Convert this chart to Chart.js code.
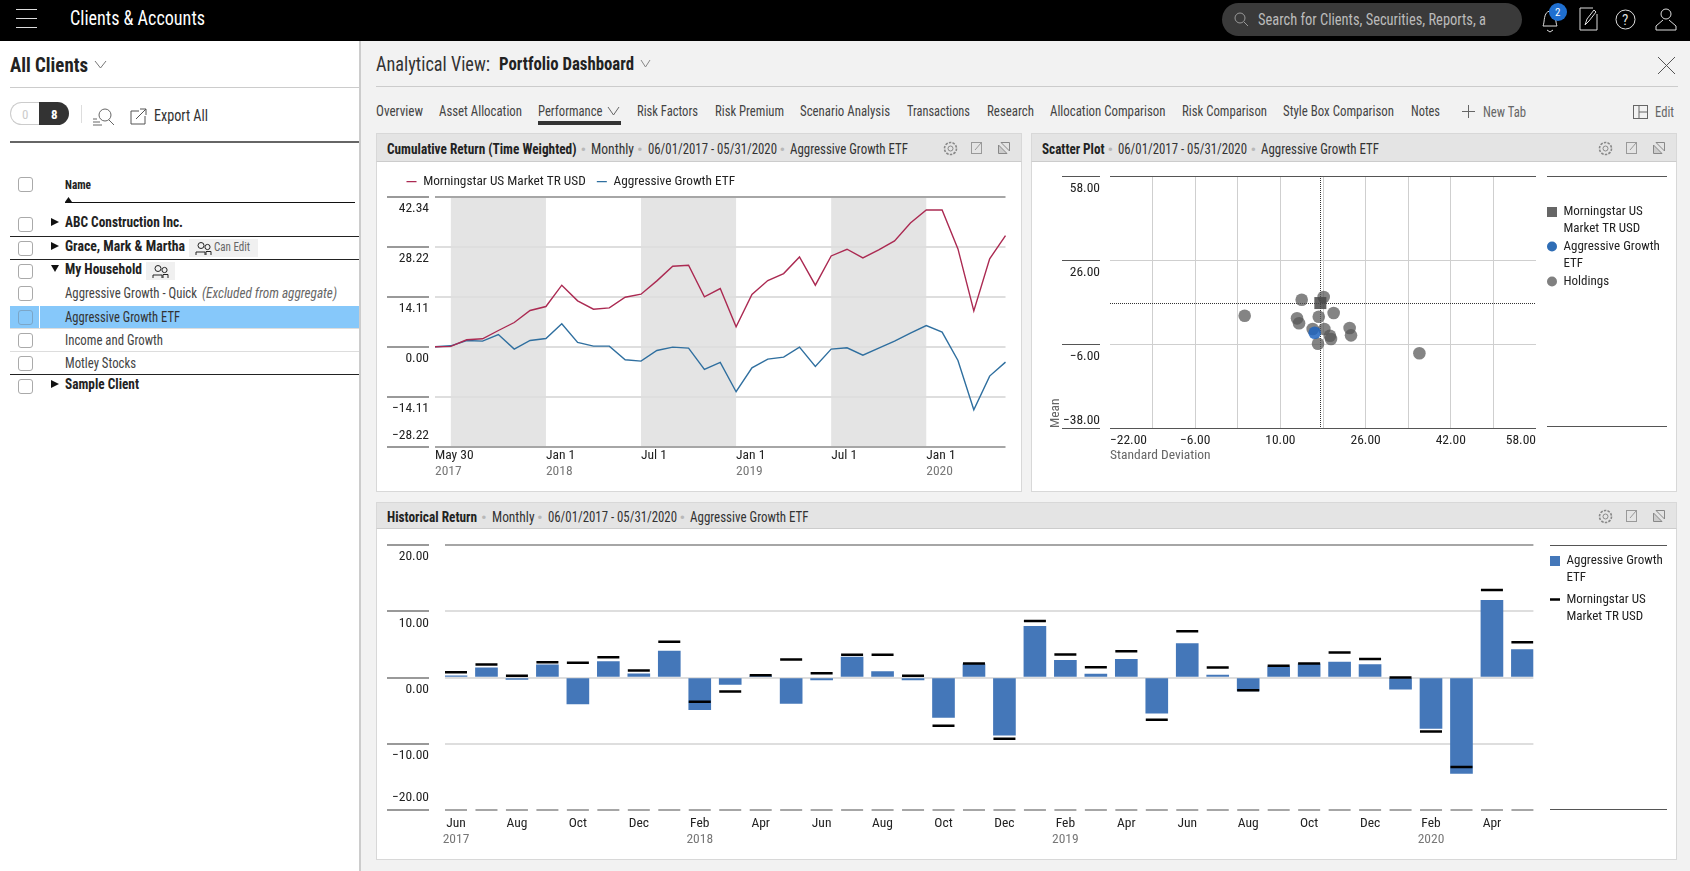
<!DOCTYPE html>
<html><head><meta charset="utf-8">
<script src="https://cdn.jsdelivr.net/npm/chart.js@4/dist/chart.umd.js"></script>
<style>
html,body{margin:0;padding:0;width:1690px;height:871px;overflow:hidden;background:#f2f2f2;font-family:'Roboto Condensed',Roboto,sans-serif;color:#222}
.t{position:absolute;white-space:nowrap;transform:translateY(-50%);transform-origin:left center;line-height:1}
.b{position:absolute}
canvas{position:absolute;display:block}
svg{position:absolute;overflow:visible}
</style></head><body>
<div id="root"></div>
<canvas id="cum" width="645" height="328" style="left:377px;top:163px;width:645px;height:328px"></canvas>
<canvas id="sca" width="645" height="328" style="left:1032px;top:163px;width:645px;height:328px"></canvas>
<canvas id="his" width="1300" height="329" style="left:377px;top:530px;width:1300px;height:329px"></canvas>
<script>
const FONT="'Roboto Condensed',Roboto,sans-serif";
// ---------- data: cumulative return ----------
const cumMonths=['2017-05','2017-06','2017-07','2017-08','2017-09','2017-10','2017-11','2017-12','2018-01','2018-02','2018-03','2018-04','2018-05','2018-06','2018-07','2018-08','2018-09','2018-10','2018-11','2018-12','2019-01','2019-02','2019-03','2019-04','2019-05','2019-06','2019-07','2019-08','2019-09','2019-10','2019-11','2019-12','2020-01','2020-02','2020-03','2020-04','2020-05'];
const cumIndex=[0.1,0.2,2.07,2.35,4.7,6.96,10.35,11.48,17.5,13.08,10.72,11.1,14.11,14.96,18.72,22.86,23.14,14.2,16.56,5.74,14.86,18.81,20.79,25.49,17.5,25.77,27.66,25.2,27.47,30.0,35.09,38.76,38.76,27.75,10.25,24.93,31.51];
const cumFund=[0.1,0.38,1.88,1.69,3.57,-0.56,1.88,2.45,6.58,1.32,0.28,0.28,-3.57,-3.95,-0.94,0,-0.28,-6.3,-4.33,-12.6,-5.83,-3.39,-2.82,0,-5.46,-0.56,-0.19,-2.26,-0.28,1.69,3.95,6.11,4.23,-3.76,-17.69,-8.18,-4.23];
const cumYTicks=[-28.22,-14.11,0,14.11,28.22,42.34];
const cumTickText={0:'May 30',7:'Jan 1',13:'Jul 1',19:'Jan 1',25:'Jul 1',31:'Jan 1'};
const cumYearText={0:'2017',7:'2018',19:'2019',31:'2020'};
const bandStarts=[1,13,25];
const bandEnds=[7,19,31];
// ---------- data: scatter ----------
const benchStdDev=[17.5], benchMean=[9.6];
const fundStdDev=[16.44], fundMean=[-1.7];
const holdStdDev=[14.0,18.13,3.29,20.0,17.2,13.12,13.5,16.06,18.25,23.0,23.26,19.3,19.5,17.06,36.1];
const holdMean=[10.87,11.9,4.78,5.8,4.4,3.78,1.88,-0.29,-0.29,0.1,-2.7,-2.83,-4.1,-5.9,-9.55];
const scaXTicks=[-22,-14,-6,2,10,18,26,34,42,50,58];
const scaYTicks=[-38,-22,-6,10,26,42,58];
const scaXLabelled=[-22,-6,10,26,42,58];
const scaYLabelled=[-38,-6,26,58];
// ---------- data: historical ----------
const histMonths=['Jun','Jul','Aug','Sep','Oct','Nov','Dec','Jan','Feb','Mar','Apr','May','Jun','Jul','Aug','Sep','Oct','Nov','Dec','Jan','Feb','Mar','Apr','May','Jun','Jul','Aug','Sep','Oct','Nov','Dec','Jan','Feb','Mar','Apr','May'];
const histFund=[0.25,1.46,-0.3,1.91,-3.97,2.41,0.55,3.97,-4.87,-1.06,0.2,-3.92,-0.35,3.07,0.9,-0.35,-6.03,2.01,-8.69,7.74,2.61,0.5,2.76,-5.38,5.13,0.35,-2.01,1.61,2.06,2.31,1.96,-1.76,-7.69,-14.47,11.66,4.22];
const histBench=[0.8,1.96,0.25,2.31,2.21,3.07,1.06,5.38,-3.67,-2.11,0.35,2.71,0.65,3.42,3.42,0.25,-7.29,2.11,-9.25,8.54,3.47,1.56,3.97,-6.38,6.98,1.51,-1.91,1.76,2.11,3.77,2.81,0,-8.14,-13.52,13.22,5.33];
const histYTicks=[-20,-10,0,10,20];
const histXTicks=[0,2,4,6,8,10,12,14,16,18,20,22,24,26,28,30,32,34];
const histYearText={0:'2017',8:'2018',20:'2019',32:'2020'};
// ---------- text ----------
const seriesIndex='Morningstar US Market TR USD', seriesFund='Aggressive Growth ETF';
const tabs=[['Overview',376,47],['Asset Allocation',439,83],['Performance',538,64.5],['Risk Factors',637,61],['Risk Premium',715,69],['Scenario Analysis',800,90],['Transactions',907,63],['Research',987,47],['Allocation Comparison',1050,115.5],['Risk Comparison',1182,85],['Style Box Comparison',1283,111],['Notes',1411,29]];

// ---------- chrome ----------
const root=document.getElementById('root');
function box(x,y,w,h,css){const d=document.createElement('div');d.className='b';d.style.cssText=`left:${x}px;top:${y}px;width:${w}px;height:${h}px;${css||''}`;root.appendChild(d);return d;}
function txt(x,cy,s,size,css,tw){const d=document.createElement('div');d.className='t';d.textContent=s;d.style.cssText=`left:${x}px;top:${cy}px;font-size:${size}px;${css||''}`;root.appendChild(d);
  if(tw){const w=d.getBoundingClientRect().width;d.style.transform=`translateY(-50%) scaleX(${tw/w})`;}return d;}
function icon(x,y,w,h,inner,stroke){const n='http://www.w3.org/2000/svg';const s=document.createElementNS(n,'svg');s.setAttribute('width',w);s.setAttribute('height',h);s.setAttribute('viewBox',`0 0 ${w} ${h}`);s.style.left=x+'px';s.style.top=y+'px';s.setAttribute('fill','none');s.setAttribute('stroke',stroke||'#555');s.setAttribute('stroke-width','1');s.innerHTML=inner;root.appendChild(s);}
function chev(x,y,w,h,c){icon(x,y,w,h,`<polyline points="0,0 ${w/2},${h} ${w},0"/>`,c||'#777');}
function tri(x,y,down){icon(x,y,9,9,down?'<polygon points="0,1 8,1 4,8" fill="#111" stroke="none"/>':'<polygon points="0,0 8,4 0,8" fill="#111" stroke="none"/>');}
function check(x,cy,c){box(x,cy-7,13,13,`border:1px solid ${c||'#aaa'};border-radius:3px;`);}

box(0,0,1690,41,'background:#000');
[9,18,27].forEach(y=>box(16,y,21,1,'background:#ddd'));
txt(70,18,'Clients & Accounts',20,'color:#fff',135);
box(1222,3,300,33,'background:#3a3a3a;border-radius:17px');
icon(1234,12,15,15,'<circle cx="6" cy="6" r="5"/><line x1="10" y1="10" x2="14" y2="14"/>','#999');
txt(1258,20,'Search for Clients, Securities, Reports, a',16,'color:#bbb',228);
icon(1540,6,20,26,'<path d="M3 20 C5 16 3 6 10 5 C17 6 15 16 17 20 Z"/><path d="M7 24 L10 26 L13 24"/>','#ddd');
box(1549,3,18,18,'background:#1f6fd0;border-radius:50%');
txt(1555,12,'2',11,'color:#fff');
icon(1580,8,18,22,'<path d="M17 6 V22 H0 V0 H13"/><path d="M5 17 L7 11 L14 2 L16 4 L9 13 Z"/>','#ddd');
icon(1616,8,19,23,'<circle cx="9.5" cy="11.5" r="9.5"/>','#ddd');txt(1622,20,'?',15,'color:#ddd');
icon(1655,8,22,22,'<circle cx="11" cy="6" r="5"/><path d="M1 22 V18 L8 12 M21 22 V18 L14 12 M1 22 H21"/>','#ddd');

// left sidebar
box(0,41,359,830,'background:#fff');box(359,41,2,830,'background:#ccc');
txt(10,65,'All Clients',20,'font-weight:bold;color:#222',78);chev(95,61,11,7,'#777');
box(10,87,349,1,'background:#ccc');
box(10,102,29,23,'background:#fff;border:1px solid #ccc;border-right:0;border-radius:12px 0 0 12px;box-sizing:border-box');
box(39,102,30,23,'background:#333;border-radius:0 12px 12px 0');
txt(22,114,'0',13,'color:#ccc');txt(51,114,'8',13,'color:#fff;font-weight:bold');
box(81,105,1,18,'background:#ddd');
icon(93,108,22,18,'<circle cx="12" cy="7" r="6"/><line x1="16" y1="12" x2="21" y2="17"/><line x1="0" y1="11" x2="4" y2="11"/><line x1="0" y1="14" x2="7" y2="14"/><line x1="0" y1="17" x2="9" y2="17"/>','#666');
icon(130,108,17,17,'<path d="M9 3 H1 V16 H15 V8"/><path d="M6 11 L16 1 M10 1 H16 V7"/>','#555');
txt(154,116,'Export All',16,'color:#333',54);
box(10,141,349,2,'background:#666');
check(18,184);txt(65,185,'Name',12,'font-weight:bold;color:#222',26);
icon(65,197,7,5,'<polygon points="0,5 3.5,0 7,5" fill="#111" stroke="none"/>');box(65,202,290,1,'background:#111');
box(10,306,349,22,'background:#86c8fa');box(39,306,1,22,'background:#fff');
box(10,236,349,1,'background:#222');box(10,259,349,1,'background:#222');box(10,374,349,1,'background:#222');box(10,351,349,1,'background:#ddd');box(10,328,349,1,'background:#ddd');
[224,248,271,293,317,340,363,386].forEach((y,i)=>check(18,y,i==4?'#7ba6c8':'#aaa'));
tri(51,218,false);tri(51,242,false);tri(51,264,true);tri(51,380,false);
txt(65,222,'ABC Construction Inc.',14,'font-weight:bold',118);
txt(65,246,'Grace, Mark & Martha',14,'font-weight:bold',120);
box(189,239,69,18,'background:#f0f0f0');
const people='<circle cx="5" cy="3.5" r="3"/><circle cx="11.5" cy="5" r="2.6"/><path d="M0 13 V10 H9 V13 M10 13 V9.5 H15 V13"/>';
icon(196,242,16,13,people,'#222');txt(214,247,'Can Edit',12,'color:#666',36);
txt(65,269,'My Household',14,'font-weight:bold',77);
box(146,262,29,18,'background:#f0f0f0');icon(153,265,16,13,people,'#222');
txt(65,293,'Aggressive Growth - Quick',14,'color:#444',132);
txt(202,293,'(Excluded from aggregate)',14,'color:#666;font-style:italic',135);
txt(65,317,seriesFund,14,'color:#333',115);
txt(65,340,'Income and Growth',14,'color:#444',98);
txt(65,363,'Motley Stocks',14,'color:#444',71);
txt(65,384,'Sample Client',14,'font-weight:bold',74);

// main header
txt(376,64,'Analytical View:',20,'color:#333',114);
txt(499,64,'Portfolio Dashboard',18,'font-weight:bold',135);
chev(641,60,9,7,'#888');
icon(1658,57,17,17,'<line x1="0" y1="0" x2="17" y2="17"/><line x1="17" y1="0" x2="0" y2="17"/>','#555');
box(376,86,1302,1,'background:#ccc');
tabs.forEach(([s,x,w])=>txt(x,111,s,14,'color:#444',w));
chev(608,107,11,8,'#666');box(538,121,83,4,'background:#333');
icon(1462,105,13,13,'<line x1="6.5" y1="0" x2="6.5" y2="13"/><line x1="0" y1="6.5" x2="13" y2="6.5"/>','#666');
txt(1483,112,'New Tab',14,'color:#666',43);
icon(1633,105,15,14,'<rect x="0.5" y="0.5" width="14" height="13"/><line x1="6" y1="0" x2="6" y2="14"/><line x1="6" y1="7" x2="15" y2="7"/>','#666');
txt(1655,112,'Edit',14,'color:#666',19);

function panel(x,y,w,h,hh,parts){
  box(x,y,w,h,'background:#fff;border:1px solid #d8d8d8;box-sizing:border-box');
  box(x,y,w,hh,'background:#e4e4e4;border:1px solid #d8d8d8;border-bottom:1px solid #ccc;box-sizing:border-box');
  const cy=y+hh/2+1;
  parts.forEach(([s,px,tw,bold])=>txt(px,cy,s,14,bold?'font-weight:bold;color:#222':'color:#333',tw));
  parts.slice(1).forEach(([s,px])=>txt(px-10.5,cy,'\u2022',17,'color:#b8b8b8'));
  const ix=x+w;
  icon(ix-79,cy-8,15,15,'<circle cx="7.5" cy="7.5" r="6" stroke-dasharray="2.5 1.2" stroke-width="1.6"/><circle cx="7.5" cy="7.5" r="2.5"/>','#888');
  icon(ix-51,cy-7,11,12,'<rect x="0.5" y="0.5" width="10" height="11"/><path d="M4 8 L10 1"/>','#999');
  icon(ix-24,cy-7,12,12,'<path d="M0.5 3 V11.5 H9 Z" fill="#ccc"/><path d="M11.5 9 V0.5 H3 Z"/>','#888');
}
panel(376,133,646,359,29,[['Cumulative Return (Time Weighted)',387,189.5,1],['Monthly',591,43],['06/01/2017 - 05/31/2020',647.5,129],[seriesFund,790,118]]);
panel(1031,133,646,359,29,[['Scatter Plot',1042,62.5,1],['06/01/2017 - 05/31/2020',1118,129],[seriesFund,1261,118]]);
panel(376,502,1301,358,27,[['Historical Return',387,90,1],['Monthly',491.5,42.5],['06/01/2017 - 05/31/2020',547.6,129],[seriesFund,690,118.6]]);
box(1547,176,120,1,'background:#555');box(1547,426,120,1,'background:#555');
box(1550,545,117,1,'background:#555');box(1550,809,117,1,'background:#555');

// ---------- chart helpers ----------
const fmt=v=>v.toFixed(2).replace('-','\u2212');
const zero=s=>{s.paddingLeft=s.paddingRight=s.paddingTop=s.paddingBottom=0;};
const stubs={id:'stubs',beforeDatasetsDraw(chart,a,o){
  const s=chart.scales.y,c=chart.ctx;c.save();c.strokeStyle=o.color;c.lineWidth=o.width;
  s.ticks.forEach(t=>{const on=[].concat(t.label).some(x=>x);if(!on)return;
    const y=Math.round(s.getPixelForValue(t.value))+(o.width%2?0.5:0);c.beginPath();c.moveTo(o.x0,y);c.lineTo(o.x1,y);c.stroke();});
  c.restore();}};
const nudge={id:'nudge',afterLayout(chart,a,o){const L=chart.legend;if(L){L.left=o.left;L.top=o.top;L.right=chart.width;L.bottom=chart.height;}}};
const bands={id:'bands',beforeDraw(chart,a,o){
  const x=chart.scales.x,A=chart.chartArea,c=chart.ctx;c.save();c.fillStyle=o.color;
  o.starts.forEach((st,i)=>{const l=x.getPixelForValue(st),r=x.getPixelForValue(o.ends[i]);c.fillRect(l,A.top,r-l,A.bottom-A.top);});c.restore();}};
const cross={id:'cross',beforeDatasetsDraw(chart,a,o){
  const px=Math.round(chart.scales.x.getPixelForValue(o.x))+.5,py=Math.round(chart.scales.y.getPixelForValue(o.y))+.5,A=chart.chartArea,c=chart.ctx;
  c.save();c.strokeStyle='#333';c.lineWidth=1;c.setLineDash([1,1]);c.beginPath();c.moveTo(A.left,py);c.lineTo(A.right,py);c.moveTo(px,A.top);c.lineTo(px,A.bottom);c.stroke();c.restore();}};
const TS=13.5;
const tickFont=(lh)=>({family:FONT,size:TS,lineHeight:lh+'px'});
const legendFont={family:FONT,size:13,lineHeight:'17.5px'};
const sq=(col)=>{const k=document.createElement('canvas');k.width=10;k.height=10;const g=k.getContext('2d');g.fillStyle=col;g.fillRect(0,0,10,10);return k;};
const defaultLabels=Chart.defaults.plugins.legend.labels.generateLabels;
const byIndex=(a,b)=>a.datasetIndex-b.datasetIndex;
Chart.defaults.font.family=FONT;
const base={responsive:false,animation:false,devicePixelRatio:1,events:[]};
const fitRight=(chart,target)=>{chart.options.layout.padding.right=chart.width-target-chart.legend.width;chart.update();};

// ---------- cumulative ----------
const cumChart=new Chart('cum',{type:'line',plugins:[stubs,nudge,bands],data:{labels:cumMonths,datasets:[
  {label:seriesIndex,data:cumIndex,borderColor:'#ab2a52',backgroundColor:'#ab2a52',borderWidth:1.4,pointRadius:0,pointStyle:'line',tension:0},
  {label:seriesFund,data:cumFund,borderColor:'#2f6f9f',backgroundColor:'#2f6f9f',borderWidth:1.4,pointRadius:0,pointStyle:'line',tension:0}]},
 options:{...base,layout:{padding:{left:6,right:16.5,top:0,bottom:9}},
  plugins:{stubs:{x0:10,x1:52,color:'#999',width:2},nudge:{left:18.5,top:1},bands:{starts:bandStarts,ends:bandEnds,color:'#e4e4e4'},
   legend:{position:'top',align:'start',labels:{usePointStyle:true,pointStyleWidth:10,boxHeight:8,padding:11,color:'#222',font:{family:FONT,size:13.3,lineHeight:'12px'}}}},
  scales:{
   x:{type:'category',grid:{display:false,drawTicks:false},border:{display:false},afterFit:s=>{zero(s);s.height=17;},
    ticks:{align:'start',autoSkip:false,maxRotation:0,minRotation:0,padding:1,color:'#222',font:tickFont(16),callback:(v,i)=>cumTickText[i]||''}},
   xYear:{type:'category',labels:cumMonths,position:'bottom',grid:{display:false,drawTicks:false},border:{display:false},afterFit:s=>{zero(s);s.height=18;},
    ticks:{align:'start',autoSkip:false,maxRotation:0,minRotation:0,padding:0,color:'#777',font:tickFont(16),callback:(v,i)=>cumYearText[i]||''}},
   y:{min:-28.22,max:42.34,afterBuildTicks:s=>{s.ticks=cumYTicks.map(v=>({value:v}));},afterFit:s=>{zero(s);s.width=52;},
    grid:{drawTicks:false,color:c=>(c.tick.value===42.34||c.tick.value===-28.22)?'#a6a6a6':'#dedede',lineWidth:2},border:{display:false},
    ticks:{padding:6,color:'#222',font:tickFont(23),callback:v=>v===-28.22?[fmt(v),'']:['',fmt(v)]}}}}});

// ---------- scatter ----------
const pts=(xs,ys)=>xs.map((x,i)=>({x,y:ys[i]}));
const scaChart=new Chart('sca',{type:'scatter',plugins:[stubs,nudge,cross],data:{datasets:[
  {label:['Morningstar US','Market TR USD'],data:pts(benchStdDev,benchMean),pointStyle:'rect',pointRadius:8.5,backgroundColor:'rgba(70,70,70,.85)',borderColor:'rgba(70,70,70,.85)',borderWidth:0},
  {label:['Aggressive Growth','ETF'],data:pts(fundStdDev,fundMean),pointStyle:'circle',pointRadius:6.3,backgroundColor:'rgba(30,100,190,.85)',borderColor:'rgba(30,100,190,.85)',borderWidth:0},
  {label:'Holdings',data:pts(holdStdDev,holdMean),pointStyle:'circle',pointRadius:6.3,backgroundColor:'rgba(85,85,85,.72)',borderColor:'rgba(85,85,85,.72)',borderWidth:0}]},
 options:{...base,layout:{padding:{left:16,right:20,top:13,bottom:27}},
  plugins:{stubs:{x0:30,x1:68,color:'#555',width:1},nudge:{left:515,top:42},cross:{x:benchStdDev[0],y:benchMean[0]},
   legend:{position:'right',align:'start',labels:{usePointStyle:true,boxHeight:7.07,pointStyleWidth:10,padding:0,color:'#222',font:legendFont,
     generateLabels:ch=>{const L=defaultLabels(ch);L[0].pointStyle=sq('#666');L[1].fillStyle='#2f6db5';L[2].fillStyle='#808080';return L;}}}},
  scales:{
   x:{type:'linear',min:-22,max:58,bounds:'data',afterBuildTicks:s=>{s.ticks=scaXTicks.map(v=>({value:v}));},afterFit:s=>{zero(s);s.height=36;},
    title:{display:true,text:'Standard Deviation',align:'start',color:'#666',padding:0,font:tickFont(16)},
    grid:{drawTicks:false,color:c=>(c.tick.value===-22||c.tick.value===58)?'rgba(0,0,0,0)':'#cfcfcf',lineWidth:1},border:{display:false},
    ticks:{align:'inner',autoSkip:false,maxRotation:0,padding:5,color:'#222',font:tickFont(16),callback:v=>scaXLabelled.includes(v)?fmt(v):''}},
   y:{min:-38,max:58,bounds:'data',afterBuildTicks:s=>{s.ticks=scaYTicks.map(v=>({value:v}));},afterFit:s=>{zero(s);s.width=62;},
    title:{display:true,text:'Mean',align:'start',color:'#666',padding:0,font:tickFont(16)},
    grid:{drawTicks:false,color:c=>(c.tick.value===58||c.tick.value===-38)?'#555':'#cfcfcf',lineWidth:1},border:{display:false},
    ticks:{padding:10,color:'#222',font:c=>tickFont(c.tick&&c.tick.value===-38?14:25),callback:v=>!scaYLabelled.includes(v)?'':(v===-38?[fmt(v),'']:['',fmt(v)])}}}}});
fitRight(scaChart,504);

// ---------- historical ----------
const idxPts=a=>a.map((y,x)=>({x,y}));
const hx=-0.361, hX=35.361;
const hisChart=new Chart('his',{type:'bar',plugins:[stubs,nudge],data:{datasets:[
  {label:['Aggressive Growth','ETF'],data:idxPts(histFund),backgroundColor:'#4477b9',barThickness:22,order:2,pointStyle:'rect',borderWidth:0},
  {type:'line',label:['Morningstar US','Market TR USD'],data:idxPts(histBench),showLine:false,pointStyle:'line',pointRadius:11,pointBorderWidth:2.5,pointBorderColor:'#000',borderColor:'#000',backgroundColor:'#000',borderWidth:2,order:1}]},
 options:{...base,layout:{padding:{left:0,right:20,top:15,bottom:9}},
  plugins:{stubs:{x0:10,x1:52,color:'#999',width:2},nudge:{left:1169,top:20},
   legend:{position:'right',align:'start',labels:{usePointStyle:true,boxHeight:7.07,pointStyleWidth:10,padding:4,color:'#222',font:legendFont,sort:byIndex,
     generateLabels:ch=>{const L=defaultLabels(ch);L.forEach(i=>{if(i.datasetIndex===0)i.pointStyle=sq('#4477b9');});return L;}}}},
  scales:{
   x:{type:'linear',offset:false,min:hx,max:hX,bounds:'data',grid:{display:false,drawTicks:false,offset:false},border:{display:false},afterBuildTicks:s=>{s.ticks=histXTicks.map(v=>({value:v}));},afterFit:s=>{zero(s);s.height=22;},
    ticks:{autoSkip:false,maxRotation:0,padding:6,color:'#222',font:tickFont(16),callback:v=>histMonths[v]}},
   xYear:{type:'linear',offset:false,min:hx,max:hX,bounds:'data',position:'bottom',grid:{display:false,drawTicks:false,offset:false},border:{display:false},afterBuildTicks:s=>{s.ticks=Object.keys(histYearText).map(v=>({value:+v}));},afterFit:s=>{zero(s);s.height=18;},
    ticks:{autoSkip:false,maxRotation:0,padding:0,color:'#777',font:tickFont(16),callback:v=>histYearText[v]}},
   y:{min:-20,max:20,afterBuildTicks:s=>{s.ticks=histYTicks.map(v=>({value:v}));},afterFit:s=>{zero(s);s.width=68;},
    grid:{drawTicks:false,color:c=>(c.tick.value===20||c.tick.value===-20)?'#a6a6a6':'#dedede',lineWidth:2},
    border:{display:false,dash:c=>c.tick&&c.tick.value===-20?[22,8.47]:[]},
    ticks:{padding:16,color:'#222',font:tickFont(24),callback:v=>v===-20?[fmt(v),'']:['',fmt(v)]}}}}});
fitRight(hisChart,1156.4);
</script>
</body></html>
